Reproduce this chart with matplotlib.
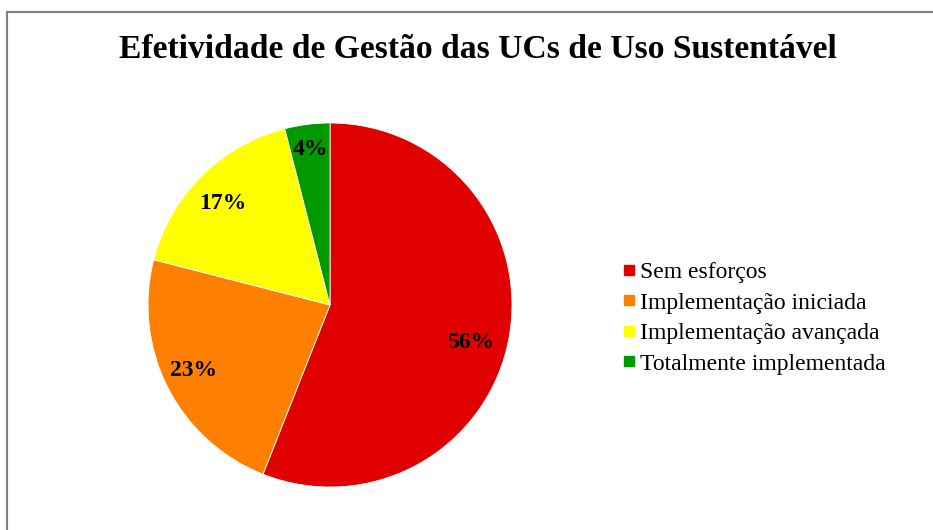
import matplotlib
matplotlib.use("Agg")
import matplotlib.pyplot as plt
from matplotlib.lines import Line2D
from matplotlib.patches import Rectangle

categories = ["Sem esforços", "Implementação iniciada", "Implementação avançada", "Totalmente implementada"]
values = [56, 23, 17, 4]
colors = ["#E00000", "#FF8000", "#FFFF00", "#009900"]
title = "Efetividade de Gestão das UCs de Uso Sustentável"

# label placement (axes units, pie radius = 1)
label_pos = [(0.777, -0.208), (-0.75, -0.362), (-0.588, 0.556), (-0.11, 0.855)]

W, H = 933, 530
fig = plt.figure(figsize=(W / 100, H / 100), dpi=100)
serif = ["Liberation Serif", "DejaVu Serif"]

# outer border
fig.patches.append(Rectangle((7 / W, -0.05), 1.1, 1 - 12 / H + 0.05, transform=fig.transFigure,
                             fill=False, edgecolor="#808080", linewidth=1.5))

cx, cy, r = 330, H - 305, 182
ax = fig.add_axes([(cx - r) / W, (cy - r) / H, 2 * r / W, 2 * r / H])
wedges, texts, autotexts = ax.pie(values, colors=colors, startangle=90, counterclock=False,
                                  autopct="%1.0f%%", pctdistance=0.82,
                                  wedgeprops=dict(edgecolor="white", linewidth=0.6),
                                  textprops=dict(fontfamily=serif, fontsize=17, fontweight="bold"))
for t, p in zip(autotexts, label_pos):
    t.set_position(p)
ax.set_xlim(-1, 1)
ax.set_ylim(-1, 1)
ax.set_aspect("equal")
ax.axis("off")

fig.text(477.5 / W, 1 - 50 / H, title, ha="center", va="center", fontfamily=serif,
         fontsize=24.2, fontweight="bold")

handles = [Line2D([], [], linestyle="none", marker="s", markersize=6.5, color=c) for c in colors]
fig.legend(handles, categories, loc="center left", bbox_to_anchor=(623 / W, 1 - 318 / H),
           frameon=False, prop=dict(family=serif, size=17), handlelength=0.5,
           handletextpad=0.2, labelspacing=0.38, borderpad=0, borderaxespad=0)

fig.savefig("out.png", dpi=100)
